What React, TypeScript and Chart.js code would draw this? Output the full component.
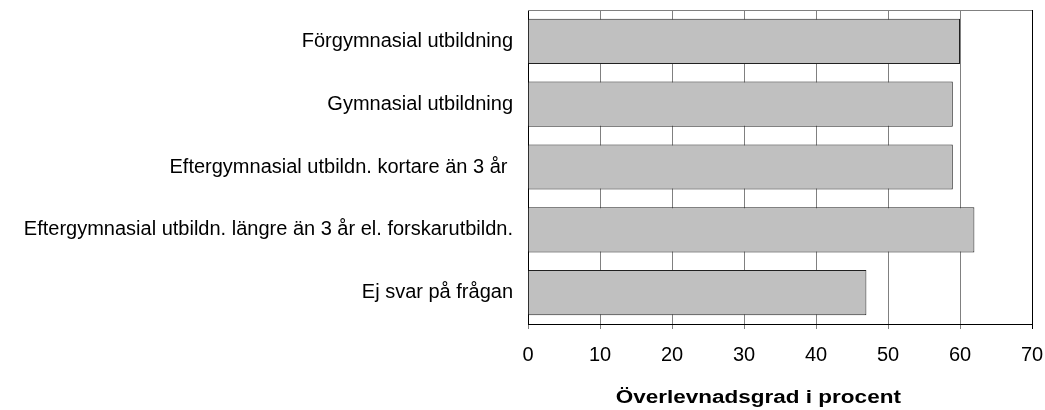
import React, { useEffect, useRef } from "react";
import { Chart, registerables } from "chart.js";

Chart.register(...registerables);

const categories = [
  "Förgymnasial utbildning",
  "Gymnasial utbildning",
  "Eftergymnasial utbildn. kortare än 3 år ",
  "Eftergymnasial utbildn. längre än 3 år el. forskarutbildn.",
  "Ej svar på frågan",
];
const values = [60, 59, 59, 62, 47];
const xTitle = "Överlevnadsgrad i procent";
const xMin = 0;
const xMax = 70;
const xStep = 10;

const FONT = "'Liberation Sans', Arial, sans-serif";

const frame = {
  id: "frame",
  afterDatasetsDraw(chart: any) {
    const { ctx, chartArea } = chart;
    ctx.save();
    ctx.strokeStyle = "#808080";
    ctx.lineWidth = 1;
    ctx.beginPath();
    ctx.moveTo(chartArea.left, Math.round(chartArea.top) + 0.5);
    ctx.lineTo(chartArea.right, Math.round(chartArea.top) + 0.5);
    ctx.stroke();
    ctx.restore();
  },
  afterDraw(chart: any) {
    const { ctx, chartArea } = chart;
    const cx = chartArea.left + (chartArea.right - chartArea.left) * 0.457;
    ctx.save();
    ctx.font = "bold 18px " + FONT;
    ctx.fillStyle = "#000";
    ctx.textAlign = "center";
    ctx.textBaseline = "alphabetic";
    ctx.translate(cx, chart.height - 7);
    ctx.scale(1.25, 1);
    ctx.fillText(xTitle, 0, 0);
    ctx.restore();
  },
};

export default function App() {
  const ref = useRef<HTMLCanvasElement>(null);
  useEffect(() => {
    if (!ref.current) return;
    const chart = new Chart(ref.current, {
      type: "bar",
      data: {
        labels: categories,
        datasets: [
          {
            data: values,
            backgroundColor: "#c0c0c0",
            borderColor: "#202020",
            borderWidth: 1,
            categoryPercentage: 1,
            barPercentage: 0.72,
          },
        ],
      },
      options: {
        indexAxis: "y",
        animation: false,
        responsive: false,
        maintainAspectRatio: false,
        layout: { padding: { left: 0, top: 10, right: 13, bottom: 0 } },
        plugins: { legend: { display: false }, tooltip: { enabled: false } },
        scales: {
          x: {
            min: xMin,
            max: xMax,
            ticks: {
              stepSize: xStep,
              color: "#000",
              font: { family: FONT, size: 20, lineHeight: "52px" },
              padding: 0,
            },
            grid: {
              color: (c: any) => (c.tick && c.tick.value === xMax ? "#000" : "#808080"),
              lineWidth: 1,
              tickLength: 5,
              drawTicks: true,
            },
            border: { display: true, color: "#000", width: 1 },
            title: { display: false },
            afterFit: (s: any) => {
              s.height = 86;
            },
          },
          y: {
            ticks: {
              color: "#000",
              font: { family: FONT, size: 20, lineHeight: 1 },
              padding: 0,
            },
            grid: {
              display: true,
              drawOnChartArea: false,
              color: "rgba(0,0,0,0)",
              drawTicks: true,
              tickLength: 15,
            },
            border: { display: true, color: "#000", width: 1 },
            afterFit: (s: any) => {
              s.width = 528;
            },
          },
        },
      },
      plugins: [frame],
    });
    return () => chart.destroy();
  }, []);
  return (
    <div style={{ position: "absolute", left: 0, top: 0, width: 1045, height: 410, background: "#fff" }}>
      <canvas ref={ref} width={1045} height={410} style={{ width: 1045, height: 410 }} />
    </div>
  );
}
